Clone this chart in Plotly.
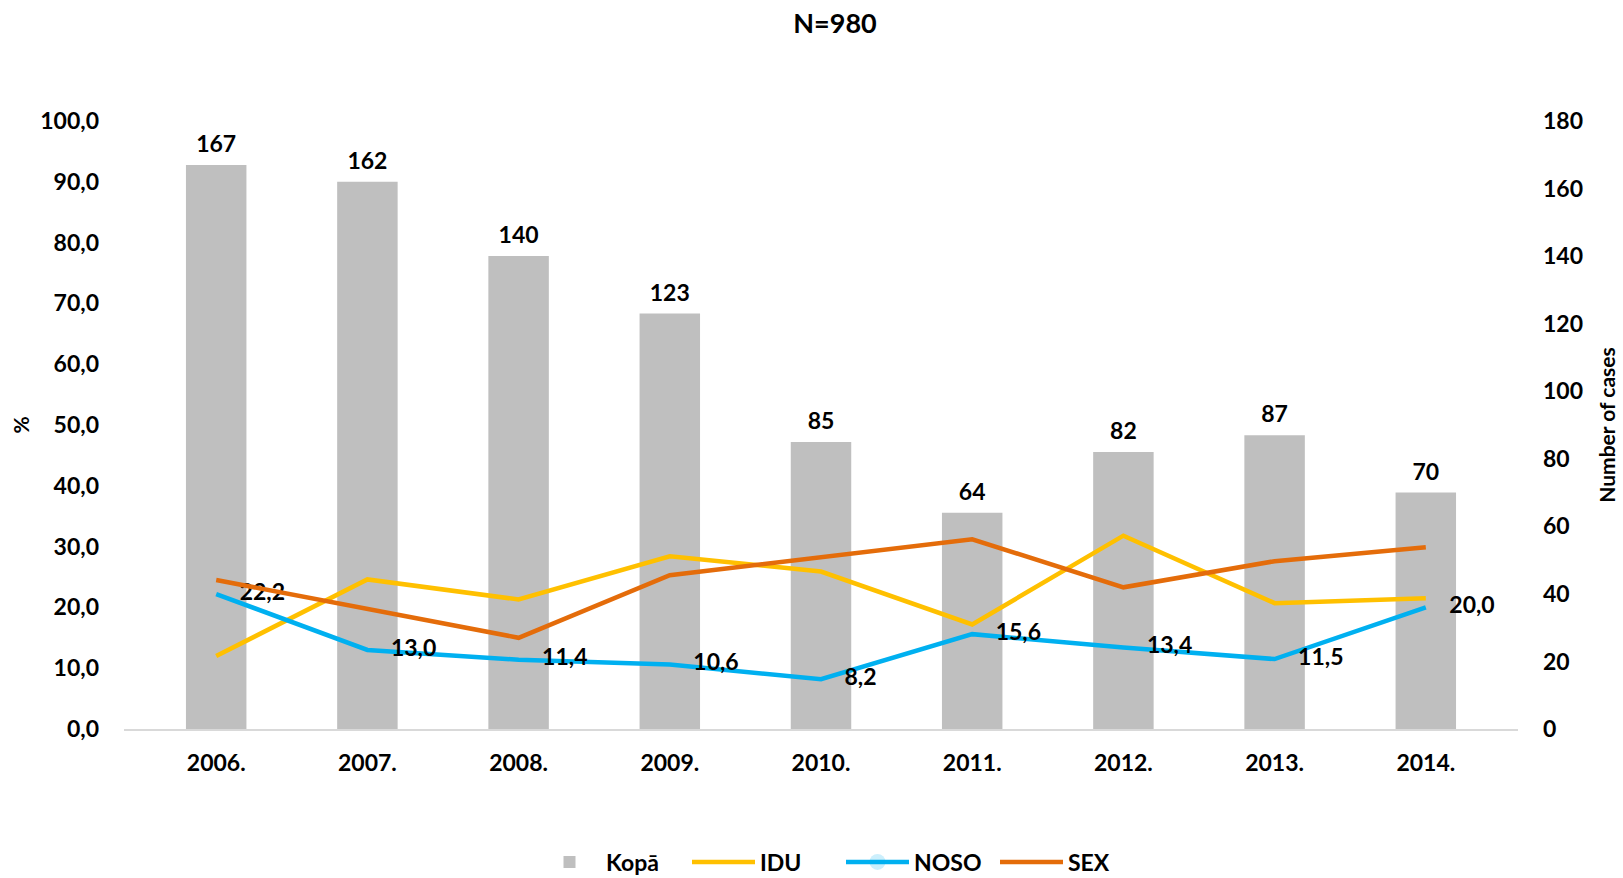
import plotly.graph_objects as go

years = ["2006.", "2007.", "2008.", "2009.", "2010.", "2011.", "2012.", "2013.", "2014."]
kopa = [167, 162, 140, 123, 85, 64, 82, 87, 70]
idu = [12.0, 24.6, 21.3, 28.4, 25.9, 17.2, 31.8, 20.7, 21.5]
noso = [22.2, 13.0, 11.4, 10.6, 8.2, 15.6, 13.4, 11.5, 20.0]
sex = [24.5, 19.8, 15.0, 25.3, 28.2, 31.2, 23.3, 27.6, 29.9]

FONT = "Lato, 'Open Sans', sans-serif"
BLACK = "#000000"

W, H = 1623, 878

fig = go.Figure()

# Bars on primary axis (right side, number of cases)
fig.add_trace(go.Bar(
    x=years, y=kopa, name="Kopā", marker=dict(color="#BFBFBF", line=dict(width=0)),
    width=0.4, yaxis="y", showlegend=True,
))
# Bar value labels
fig.add_trace(go.Scatter(
    x=years, y=kopa, mode="markers+text", text=[str(v) for v in kopa],
    textposition="top center", marker=dict(size=10, opacity=0),
    textfont=dict(family=FONT, size=23, color=BLACK, weight=700),
    showlegend=False, hoverinfo="skip", yaxis="y",
))

# Lines on secondary axis (left side, %)
fig.add_trace(go.Scatter(
    x=years, y=idu, name="IDU", mode="lines",
    line=dict(color="#FFC000", width=4.5), yaxis="y2",
))
fig.add_trace(go.Scatter(
    x=years, y=noso, name="NOSO", mode="lines+markers+text",
    line=dict(color="#00B0F0", width=4.5), yaxis="y2",
    marker=dict(size=36, opacity=0),
    texttemplate="%{y:.1f}", textposition="middle right",
    textfont=dict(family=FONT, size=23, color=BLACK, weight=700),
))
fig.add_trace(go.Scatter(
    x=years, y=sex, name="SEX", mode="lines",
    line=dict(color="#E46C0A", width=4.5), yaxis="y2",
))

tickfont = dict(family=FONT, size=23, color=BLACK, weight=700)

fig.update_layout(
    width=W, height=H,
    paper_bgcolor="white", plot_bgcolor="white",
    separators=", ",
    margin=dict(l=124, r=105, t=121, b=149, autoexpand=False),
    title=dict(text="N=980", x=835/W, xref="container", xanchor="center",
               y=1-24/H, yref="container", yanchor="middle",
               font=dict(family=FONT, size=27, color=BLACK, weight=700)),
    xaxis=dict(showgrid=False, showline=True, linecolor="#D9D9D9", linewidth=2,
               ticks="", tickfont=tickfont, ticklabelstandoff=12, automargin=False),
    yaxis=dict(side="right", range=[0, 180], dtick=20, showgrid=False, zeroline=False,
               showline=False, ticks="", tickfont=tickfont, ticklabelstandoff=24,
               automargin=False,
               title=dict(text="Number of cases", standoff=18,
                          font=dict(family=FONT, size=21, color=BLACK, weight=700))),
    yaxis2=dict(side="left", overlaying="y", range=[0, 100], dtick=10, tickformat=".1f",
                showgrid=False, zeroline=False, showline=False, ticks="",
                tickfont=tickfont, ticklabelstandoff=24, automargin=False,
                title=dict(text="%", standoff=4,
                           font=dict(family=FONT, size=21, color=BLACK, weight=700))),
    legend=dict(orientation="h", xref="container", x=841/W, xanchor="center",
                yref="container", y=1-862/H, yanchor="middle",
                font=dict(family=FONT, size=23, color=BLACK, weight=700),
                itemwidth=63, entrywidth=76, traceorder="normal"),
    bargap=0.6,
)

fig.write_html("out.html", config={"displayModeBar": False},
               post_script="document.body.style.margin='0';")
